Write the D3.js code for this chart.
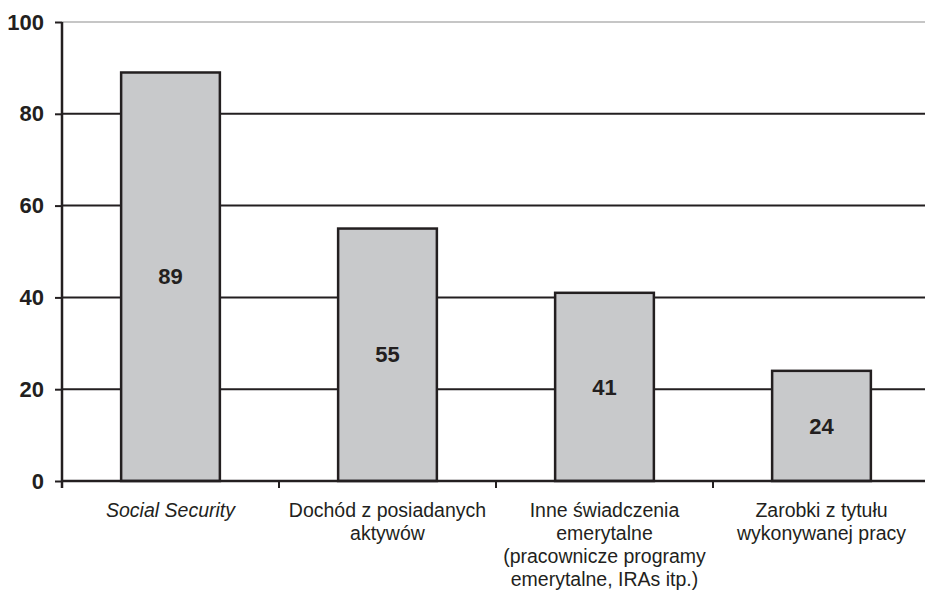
<!DOCTYPE html>
<html>
<head>
<meta charset="utf-8">
<script src="https://cdn.jsdelivr.net/npm/d3@7/dist/d3.min.js"></script>
<style>
  html, body { margin: 0; padding: 0; background: #fff; }
  svg { display: block; font-family: "Liberation Sans", Arial, sans-serif; }
</style>
</head>
<body>
<svg id="chart" width="925" height="595"></svg>
<script>
// Income sources (share, %)
const categories = [
  ["Social Security"],
  ["Dochód z posiadanych", "aktywów"],
  ["Inne świadczenia", "emerytalne", "(pracownicze programy", "emerytalne, IRAs itp.)"],
  ["Zarobki z tytułu", "wykonywanej pracy"]
];
const italicCats = [true, false, false, false];
const values = [89, 55, 41, 24];
const yTicks = [0, 20, 40, 60, 80, 100];

const svg = d3.select("#chart");
const ink = "#231f20";

const x = d3.scaleBand()
  .domain(d3.range(categories.length))
  .range([62, 930])
  .paddingInner(0.545)
  .paddingOuter(0.2725);

const y = d3.scaleLinear().domain([0, 100]).range([481, 22]);

// horizontal gridlines
svg.append("g").selectAll("line")
  .data(yTicks.filter(d => d > 0))
  .join("line")
  .attr("x1", 62).attr("x2", 925)
  .attr("y1", d => y(d)).attr("y2", d => y(d))
  .attr("stroke", d => d === 100 ? "#c6c6c6" : ink)
  .attr("stroke-width", 2);

// bars
svg.append("g").selectAll("rect")
  .data(values)
  .join("rect")
  .attr("x", (d, i) => x(i))
  .attr("y", d => y(d))
  .attr("width", x.bandwidth())
  .attr("height", d => y(0) - y(d))
  .attr("fill", "#c8c9cb")
  .attr("stroke", ink)
  .attr("stroke-width", 2.5);

// value labels inside bars
svg.append("g").selectAll("text")
  .data(values)
  .join("text")
  .attr("x", (d, i) => x(i) + x.bandwidth() / 2)
  .attr("y", d => (y(d) + y(0)) / 2)
  .attr("dy", "0.35em")
  .attr("text-anchor", "middle")
  .attr("font-size", 22)
  .attr("font-weight", "bold")
  .attr("fill", ink)
  .text(d => d);

// y axis
const yAxis = d3.axisLeft(y).tickValues(yTicks).tickSize(7).tickPadding(11);
const gy = svg.append("g").attr("transform", "translate(62,0)").call(yAxis);
gy.select(".domain").remove();
gy.append("line").attr("x1", 0).attr("x2", 0).attr("y1", y(100)).attr("y2", 488)
  .attr("stroke", ink).attr("stroke-width", 2.5);
gy.selectAll(".tick line").attr("stroke", ink).attr("stroke-width", 2);
gy.selectAll(".tick text")
  .attr("font-size", 22).attr("font-weight", "bold").attr("fill", ink)
  .attr("font-family", "Liberation Sans, Arial, sans-serif");

// x axis baseline and ticks at band boundaries
svg.append("line").attr("x1", 62).attr("x2", 925).attr("y1", y(0)).attr("y2", y(0))
  .attr("stroke", ink).attr("stroke-width", 2.5);
const step = x.step();
const bounds = d3.range(categories.length + 1).map(i => x(0) - x.paddingOuter() * step + i * step);
svg.append("g").selectAll("line")
  .data(bounds.filter(b => b > 63 && b < 925))
  .join("line")
  .attr("x1", d => d).attr("x2", d => d)
  .attr("y1", y(0)).attr("y2", 488)
  .attr("stroke", ink).attr("stroke-width", 2);

// category labels
const labels = svg.append("g").selectAll("text")
  .data(categories)
  .join("text")
  .attr("x", (d, i) => x(i) + x.bandwidth() / 2)
  .attr("y", 517)
  .attr("text-anchor", "middle")
  .attr("font-size", 19.5)
  .attr("fill", ink)
  .attr("font-style", (d, i) => italicCats[i] ? "italic" : "normal");
labels.each(function(lines) {
  const t = d3.select(this);
  const cx = t.attr("x");
  lines.forEach((ln, j) => {
    t.append("tspan").attr("x", cx).attr("dy", j === 0 ? 0 : 23).text(ln);
  });
});
</script>
</body>
</html>
